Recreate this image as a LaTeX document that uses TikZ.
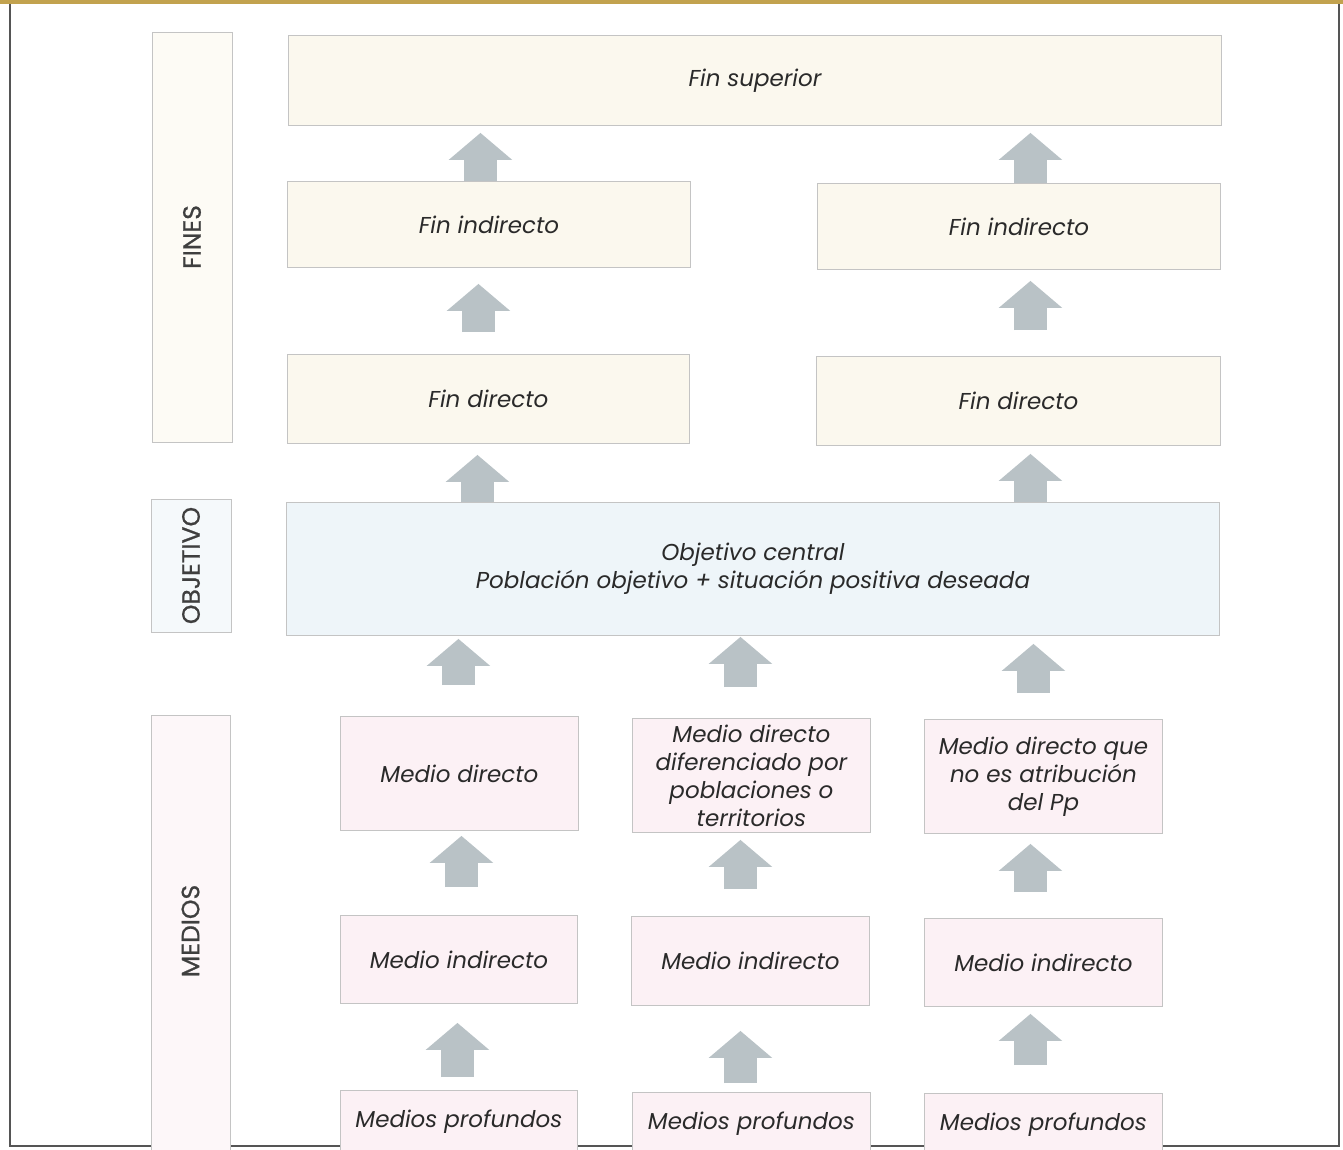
\documentclass[tikz,border=0pt]{standalone}
\usepackage{fontspec}
\setmainfont{Poppins}
\newfontfamily\lblfont[FakeBold=0.8]{Poppins}
\usetikzlibrary{arrows.meta,calc}
\definecolor{finfill}{HTML}{FBF8EE}
\definecolor{objfill}{HTML}{EEF5F9}
\definecolor{medfill}{HTML}{FCF1F5}
\definecolor{boxline}{HTML}{C4C4C4}
\definecolor{arrowc}{HTML}{B9C2C6}
\definecolor{txt}{HTML}{2A2A2A}
\definecolor{gold}{HTML}{C2A24E}
\definecolor{framec}{HTML}{555555}
\newcommand{\barr}[5]{\draw[barrow,shorten <=#4pt,shorten >=#5pt] let \p1=(#1.north), \p2=(#2.south) in (\x1+#3pt,\y1) -- (\x1+#3pt,\y2);}
\begin{document}
\begin{tikzpicture}[x=1pt,y=-1pt,
 box/.style={draw=boxline,line width=0.9pt,inner sep=2pt,align=center,anchor=north west,font=\itshape\fontsize{23}{28}\selectfont,text=txt},
 fin/.style={box,fill=finfill},
 obj/.style={box,fill=objfill},
 med/.style={box,fill=medfill},
 lbl/.style={draw=boxline,line width=0.9pt},
 lbltxt/.style={rotate=90,font=\lblfont\fontsize{25}{30}\selectfont,text=txt!90},
 barrow/.style={draw=arrowc,line width=33pt,line cap=butt,-{Triangle[width=62pt,length=27pt]}}]
\useasboundingbox (0,0) rectangle (1343,1149);
\clip (0,0) rectangle (1343,1149);
\fill[white] (0,0) rectangle (1343,1149);
% gold band and frame
\fill[gold] (0,0) rectangle (1343,4);
\draw[framec,line width=1.5pt] (10,4) -- (10,1146) -- (1339,1146) -- (1339,4);
% side labels
\draw[lbl,fill=finfill!60] (152,32) rectangle (232,442);
\node[lbltxt] (lfines) at (192,237) {FINES};
\draw[lbl,fill=objfill!60] (151,499) rectangle (231,632);
\node[lbltxt] (lobj) at (191,565.5) {OBJETIVO};
\draw[lbl,fill=medfill!60] (151,715) rectangle (230,1160);
\node[lbltxt] (lmed) at (190.5,931) {MEDIOS};
% fines
\node[fin,minimum width=933pt,minimum height=90pt] (fs) at (288,35) {Fin superior};
\node[fin,minimum width=403pt,minimum height=86pt] (fil) at (287,181) {Fin indirecto};
\node[fin,minimum width=403pt,minimum height=86pt] (fir) at (817,183) {Fin indirecto};
\node[fin,minimum width=402pt,minimum height=89pt] (fdl) at (287,354) {Fin directo};
\node[fin,minimum width=404pt,minimum height=89pt] (fdr) at (816,356) {Fin directo};
% objetivo
\node[obj,minimum width=933pt,minimum height=133pt] (obj) at (286,502) {Objetivo central\\Población objetivo + situación positiva deseada};
% medios
\node[med,minimum width=238pt,minimum height=114pt] (md1) at (340,716) {Medio directo};
\node[med,minimum width=238pt,minimum height=114pt] (md2) at (632,718) {Medio directo\\diferenciado por\\poblaciones o\\territorios};
\node[med,minimum width=238pt,minimum height=114pt] (md3) at (924,719) {Medio directo que\\no es atribución\\del Pp};
\node[med,minimum width=237pt,minimum height=88pt] (mi1) at (340,915) {Medio indirecto};
\node[med,minimum width=238pt,minimum height=89pt] (mi2) at (631,916) {Medio indirecto};
\node[med,minimum width=238pt,minimum height=88pt] (mi3) at (924,918) {Medio indirecto};
\node[med,minimum width=237pt,minimum height=62pt] (mp1) at (340,1090) {Medios profundos};
\node[med,minimum width=238pt,minimum height=62pt] (mp2) at (632,1092) {Medios profundos};
\node[med,minimum width=238pt,minimum height=62pt] (mp3) at (924,1093) {Medios profundos};
% arrows
\barr{fil}{fs}{-8.5}{0}{7}
\barr{fir}{fs}{11.5}{0}{7}
\barr{fdl}{fil}{-10}{22}{16}
\barr{fdr}{fir}{12}{26}{11}
\barr{obj}{fdl}{-275.5}{0}{11}
\barr{obj}{fdr}{277.5}{0}{8}
\barr{md1}{obj}{-1}{31}{3}
\barr{md2}{obj}{-11}{31}{1}
\barr{md3}{obj}{-10}{26}{8}
\barr{mi1}{md1}{2.5}{28}{5}
\barr{mi2}{md2}{-10}{27}{7}
\barr{mi3}{md3}{-13}{26}{10}
\barr{mp1}{mi1}{-1.5}{13}{19}
\barr{mp2}{mi2}{-11}{9}{25}
\barr{mp3}{mi3}{-13}{28}{7}
\end{tikzpicture}
\end{document}
